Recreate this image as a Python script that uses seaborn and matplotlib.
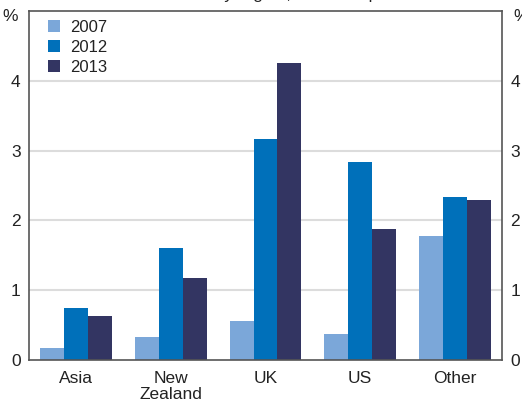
import numpy as np
import pandas as pd
import matplotlib
matplotlib.use('Agg')
import matplotlib.pyplot as plt
import seaborn as sns

# Data (per cent)
regions = ['Asia', 'New\nZealand', 'UK', 'US', 'Other']
years = ['2007', '2012', '2013']
share_2007 = [0.17, 0.33, 0.56, 0.37, 1.77]
share_2012 = [0.74, 1.61, 3.16, 2.84, 2.33]
share_2013 = [0.63, 1.17, 4.26, 1.87, 2.29]
yticks = [0, 1, 2, 3, 4]

colors = ['#7ba7d9', '#0070ba', '#333562']

df = pd.DataFrame({
    'region': regions * 3,
    'year': np.repeat(years, len(regions)),
    'value': share_2007 + share_2012 + share_2013,
})

sns.set_style('white')
plt.rcParams['font.family'] = ['Arial', 'Liberation Sans', 'DejaVu Sans']

fig = plt.figure(figsize=(5.22, 4.07), dpi=100)
ax = fig.add_axes([0.0556, 0.1155, 0.9061, 0.8575])

# Gridlines first so they sit behind bars
for y in yticks[1:]:
    ax.axhline(y, color='#dcdcdc', linewidth=1.5, zorder=0)

sns.barplot(data=df, x='region', y='value', hue='year', palette=colors,
            width=0.76, saturation=1, linewidth=0, ax=ax, zorder=2)

ax.set_ylim(0, 5)
ax.set_xlim(-0.5, len(regions) - 0.5)
ax.set_xlabel('')
ax.set_ylabel('')
ax.set_yticks(yticks)
ax.set_yticklabels([str(t) for t in yticks], fontsize=12.5, color='#222222')
ax.tick_params(axis='y', length=0, pad=6, labelright=True, right=False)
ax.set_xticks(range(len(regions)))
ax.set_xticklabels(regions, fontsize=12.5, color='#222222', linespacing=1.05)
ax.tick_params(axis='x', length=0, pad=8)

# Minor ticks at category boundaries, pointing inwards
ax.set_xticks(np.arange(0.5, len(regions) - 0.5, 1.0), minor=True)
ax.tick_params(axis='x', which='minor', direction='in', length=5,
               width=1, color='#444444')

for sp in ax.spines.values():
    sp.set_visible(True)
    sp.set_color('#555555')
    sp.set_linewidth(1.2)

# '%' unit labels at the top of both axes
ax.text(-0.04, 0.985, '%', transform=ax.transAxes, ha='center', va='center',
        fontsize=12.5, color='#222222')
ax.text(1.04, 0.985, '%', transform=ax.transAxes, ha='center', va='center',
        fontsize=12.5, color='#222222')

# Title is cut off at the top of the figure
fig.text(0.5, 1.014, 'Share of total by region, at end of period',
         ha='center', va='center', fontsize=12.5, color='#222222')

leg = ax.legend(loc='upper left', bbox_to_anchor=(0.02, 1.0), frameon=False,
                fontsize=12, handlelength=0.75, handleheight=0.75,
                handletextpad=0.6, labelspacing=0.3, borderaxespad=0.15)
for t in leg.get_texts():
    t.set_color('#222222')

fig.savefig('out.png', dpi=100)
